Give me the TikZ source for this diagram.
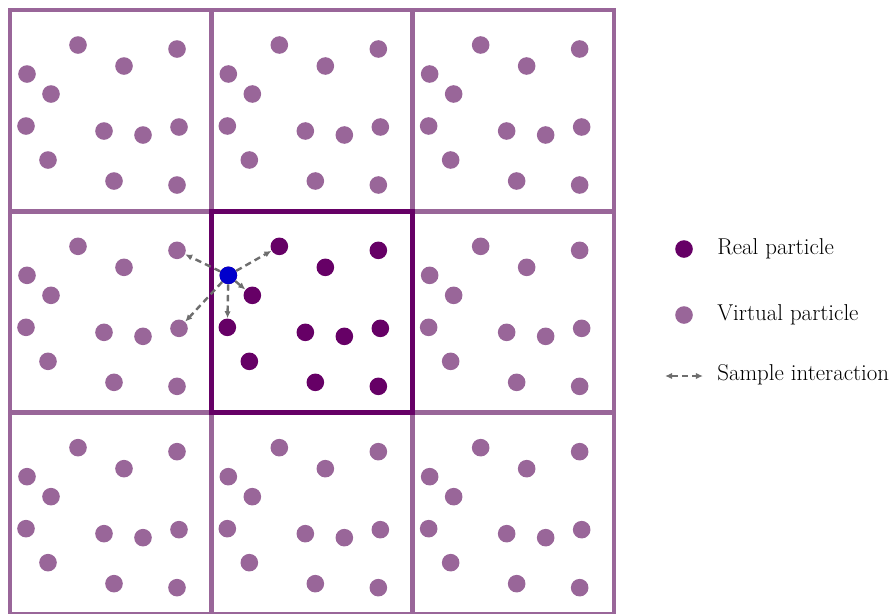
\documentclass[tikz,border=0pt]{standalone}
\usepackage{fontspec}
\usetikzlibrary{arrows.meta}
\definecolor{Virtual}{HTML}{996699}
\definecolor{Real}{HTML}{660066}
\definecolor{Probe}{HTML}{0000CC}
\definecolor{Link}{HTML}{6E6E6E}
\tikzset{
  cellbox/.style={draw=Virtual,line width=3.2pt},
  realbox/.style={draw=Real,line width=3.2pt},
  virtual/.style={circle,fill=Virtual,inner sep=0pt,minimum size=0.44cm},
  real/.style={virtual,fill=Real},
  probe/.style={virtual,fill=Probe},
  link/.style={-{Latex[length=5pt,width=4.5pt]},draw=Link,line width=1.7pt,dash pattern=on 4.5pt off 3pt},
  keytext/.style={anchor=west,inner sep=0pt,font=\fontsize{16.3}{19}\selectfont}
}
\begin{document}
\begin{tikzpicture}[x=0.025cm,y=-0.025cm]
  \useasboundingbox (0,0) rectangle (893,613);
  % periodic images of the box
  \foreach \i in {0,1,2}{
    \foreach \j in {0,1,2}{
      \draw[cellbox] (10+201.33*\i,10+201.33*\j) rectangle ++(201.33,201.33);
    }
  }
  \draw[realbox] (211.33,211.33) rectangle ++(201.33,201.33);

  % same particle layout copied into every cell
  \foreach \i in {0,1,2}{
    \foreach \j in {0,1,2}{
      \ifnum\i\j=11 \def\kind{real}\else\def\kind{virtual}\fi
      \foreach \px/\py [count=\k] in {68/35,167/39,17/64,114/56,41/84,16/116,94/121,133/125,169/117,38/150,104/171,167/175}{
        \node[\kind] (p\i\j-\k) at (10+201.33*\i+\px,10+201.33*\j+\py) {};
      }
    }
  }
  \node[probe] (probe) at (p11-3) {};

  % interactions of the probe particle
  \foreach \t in {p11-1,p11-5,p11-6,p01-2,p01-9}{
    \draw[link] (probe) -- (\t);
  }

  % legend
  \node[real] (keyreal) at (684,249) {};
  \node[keytext] (keyrealtext) at (717,249) {Real particle};
  \node[virtual] (keyvirt) at (684,315) {};
  \node[keytext] (keyvirttext) at (717,315) {Virtual particle};
  \coordinate (keyA) at (665,376);
  \coordinate (keyB) at (703,376);
  \draw[link,{Latex[length=5pt,width=4.5pt]}-{Latex[length=5pt,width=4.5pt]}] (keyA) -- (keyB);
  \node[keytext] (keylinktext) at (717,375) {Sample interaction};
\end{tikzpicture}
\end{document}
